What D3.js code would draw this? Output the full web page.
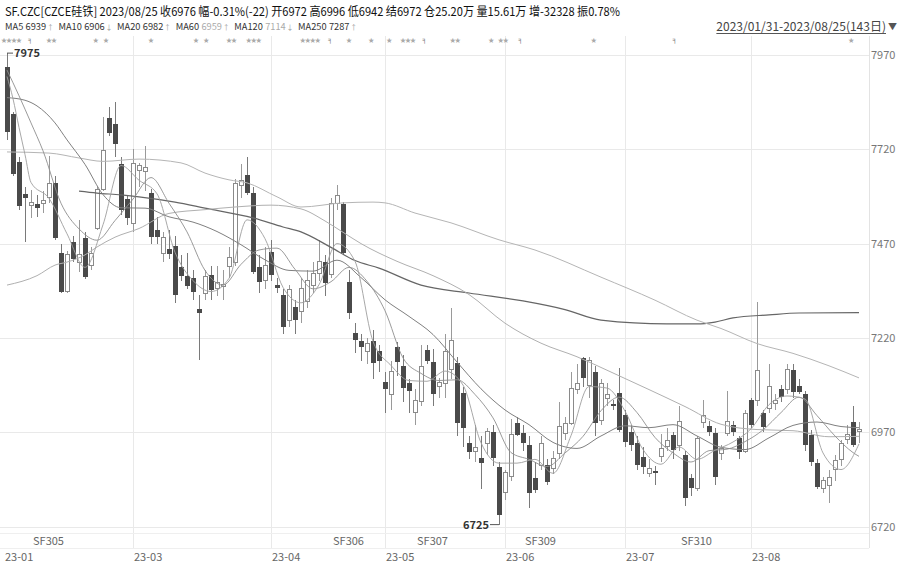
<!DOCTYPE html>
<html><head><meta charset="utf-8">
<script src="https://cdn.jsdelivr.net/npm/d3@7/dist/d3.min.js"></script>
<style>
html,body{margin:0;padding:0;background:#fff;}
svg{display:block;font-family:"Noto Sans CJK SC","Noto Sans",sans-serif;}
</style></head><body>
<svg id="c" width="900" height="567"></svg>
<script>
// ---------- data ----------
const opens  = [7937,7814,7687,7601,7572,7575,7575,7591,7631,7444,7343,7475,7419,7485,7413,7511,7614,7804,7787,7681,
 7587,7524,7665,7661,7604,7506,7445,7456,7464,7409,7384,7379,7297,7338,7387,7352,7355,7409,7420,7625,
 7652,7603,7409,7373,7449,7360,7334,7267,7302,7290,7316,7360,7392,7422,7387,7577,7575,7369,7232,7213,
 7184,7213,7184,7104,7069,7195,7146,7100,7022,7051,7188,7157,7091,7100,7135,7154,7073,6941,6920,6902,
 6941,6971,6879,6809,6852,6994,6969,6936,6848,6883,6883,6874,6914,6967,6994,7082,7166,7095,7130,7002,
 7060,7045,7075,7016,6971,6941,6905,6861,6868,6905,6931,6963,6936,6910,6848,6821,6995,6987,6967,6914,
 6967,6989,6954,6918,7055,7055,7020,7033,7047,7085,7082,7135,7093,7072,6963,6888,6821,6830,6870,6897,
 6950,6998,6972];
const highs  = [7975,7820,7700,7621,7612,7600,7610,7702,7650,7470,7450,7490,7533,7500,7460,7620,7806,7833,7846,7700,
 7600,7720,7685,7730,7615,7540,7500,7505,7490,7440,7445,7400,7334,7400,7410,7410,7400,7460,7640,7680,
 7700,7620,7440,7460,7480,7380,7350,7360,7320,7380,7400,7420,7480,7440,7590,7625,7580,7400,7260,7230,
 7220,7240,7200,7130,7160,7210,7175,7110,7085,7200,7200,7190,7115,7230,7300,7170,7090,6960,6990,6960,
 6980,6990,6890,6870,7005,7010,6990,6960,6890,6960,6900,6920,7050,7010,7130,7150,7170,7170,7145,7110,
 7100,7055,7140,7030,6990,6960,6930,6900,6880,6965,6980,6970,7040,6920,6860,6960,7055,7000,6980,6935,
 7080,7000,6960,7030,7060,7315,7030,7150,7070,7095,7150,7150,7110,7080,6975,6900,6850,6870,6910,6950,
 6990,7040,6996];
const lows   = [7745,7650,7560,7475,7538,7540,7550,7578,7480,7340,7340,7420,7396,7375,7400,7505,7610,7755,7700,7545,
 7520,7500,7620,7610,7470,7470,7420,7430,7313,7370,7350,7320,7161,7320,7320,7330,7320,7380,7410,7590,
 7600,7390,7340,7350,7370,7340,7230,7250,7230,7260,7300,7340,7370,7330,7380,7560,7440,7270,7180,7160,
 7150,7110,7130,7020,7030,7120,7050,7020,6990,7040,7150,7040,7060,7060,7110,6960,6930,6900,6890,6820,
 6910,6880,6725,6790,6840,6960,6920,6770,6810,6870,6830,6860,6900,6950,6990,7070,7090,7060,6960,6990,
 7040,7030,6970,6930,6920,6870,6860,6850,6830,6890,6920,6900,6920,6775,6800,6815,6980,6960,6830,6895,
 6960,6960,6900,6915,6980,7040,6970,7020,7030,7050,7070,7060,7070,6920,6880,6820,6810,6782,6840,6880,
 6940,6930,6942];
const closes = [7767,7655,7570,7590,7580,7565,7584,7630,7484,7343,7440,7429,7440,7382,7445,7614,7718,7762,7733,7559,
 7539,7683,7678,7671,7488,7488,7485,7442,7334,7384,7358,7343,7286,7382,7347,7366,7362,7434,7630,7638,
 7603,7396,7367,7413,7387,7352,7250,7347,7267,7350,7373,7392,7422,7365,7575,7598,7444,7285,7215,7197,
 7206,7154,7160,7084,7130,7157,7086,7080,7055,7143,7160,7071,7102,7184,7213,6994,6980,6918,6930,6889,
 6971,6901,6751,6862,6963,6963,6941,6808,6817,6941,6839,6901,6986,6994,7086,7100,7113,7161,6994,7100,
 7069,7040,6976,6945,6936,6883,6879,6874,6861,6928,6947,6923,6998,6795,6821,6954,7013,6971,6852,6928,
 6998,6971,6918,7020,6989,7133,6984,7091,7055,7064,7135,7077,7077,6936,6892,6826,6843,6849,6896,6941,
 6965,6936,6976];

// moving averages: [candle index, value]
const ma5 = [[0,7913],[1,7854],[2,7778],[3,7706],[4,7632],[7,7590],[10,7496],[13,7407],[16,7520],[19,7677],[22,7638],
 [25,7602],[28,7447],[31,7372],[34,7343],[37,7378],[40,7533],[43,7483],[46,7354],[49,7313],[52,7361],[55,7470],
 [58,7423],[61,7211],[64,7147],[67,7107],[70,7105],[73,7132],[76,7095],[79,6942],[82,6888],[85,6888],[88,6898],
 [91,6861],[94,6961],[97,7091],[100,7087],[103,7026],[106,6924],[109,6885],[112,6931],[115,6898],[118,6922],
 [121,6944],[124,6979],[127,7043],[130,7066],[133,7058],[136,6915],[139,6871],[142,6939]];
const ma10 = [[0,7930],[2,7862],[4,7790],[6,7716],[9,7577],[12,7509],[15,7479],[18,7531],[21,7588],[24,7645],[27,7577],
 [30,7501],[33,7399],[36,7360],[39,7415],[42,7453],[45,7458],[48,7402],[51,7350],[54,7369],[57,7407],[60,7370],
 [63,7292],[66,7167],[69,7126],[72,7107],[75,7109],[78,7070],[81,7008],[84,6916],[87,6898],[90,6879],[93,6915],
 [96,6959],[99,7027],[102,7063],[105,7022],[108,6956],[111,6915],[114,6891],[117,6921],[120,6925],[123,6945],
 [126,6976],[129,7022],[132,7063],[135,7014],[138,6960],[141,6916],[142,6906]];
const ma20 = [[0,7857],[3,7850],[5,7835],[8,7790],[10,7745],[13,7680],[16,7600],[19,7565],[23,7564],[27,7541],[31,7527],
 [35,7502],[39,7467],[43,7427],[47,7399],[51,7397],[55,7426],[59,7380],[63,7321],[67,7277],[71,7229],[75,7156],
 [79,7085],[83,7029],[87,6990],[91,6943],[95,6927],[99,6960],[103,6987],[107,6982],[111,6990],[115,6960],
 [119,6930],[123,6924],[127,6955],[131,6988],[135,6997],[139,6985],[142,6982]];
const ma60 = [[0,7360],[5,7385],[8,7413],[10,7421],[13,7440],[15,7461],[18,7487],[22,7510],[27,7550],[33,7560],
 [38,7567],[44,7572],[49,7562],[53,7530],[56,7500],[59,7470],[65,7423],[71,7385],[77,7335],[83,7259],[89,7206],
 [95,7170],[101,7127],[107,7083],[113,7038],[119,6991],[125,6977],[131,6974],[137,6958],[142,6959]];
const ma120 = [[0,7713],[7,7710],[12,7697],[16,7688],[22,7694],[29,7684],[33,7657],[37,7639],[40,7631],[45,7594],
 [49,7567],[56,7578],[61,7580],[63,7578],[68,7551],[74,7525],[82,7480],[88,7453],[99,7381],[108,7320],[115,7267],
 [119,7245],[125,7205],[131,7179],[137,7146],[142,7114]];
const ma250 = [[12,7609],[15,7604],[19,7599],[22,7594],[28,7580],[33,7564],[41,7538],[46,7514],[49,7501],[54,7460],
 [58,7425],[62,7405],[69,7360],[77,7339],[86,7318],[93,7295],[99,7267],[110,7257],[115,7257],[118,7262],[121,7273],
 [127,7281],[132,7286],[142,7287]];

const yTicks = [6720,6970,7220,7470,7720,7970];
const monthLabels = ["23-01","23-03","23-04","23-05","23-06","23-07","23-08"];
const monthIdx    = [0,21,44,63,83,103,124];
const contracts   = ["SF305","SF306","SF307","SF309","SF310"];
const contractIdx = [4,54,68,86,112];
// event markers: [candle index where the group starts, number of stars]
const starGroups = [[-1,4],[6.5,2],[14.3,1],[16,1],[23.5,1],[31,1],[32.7,1],[36.5,2],[39.8,3],[48.8,4],
 [56.5,1],[60.2,1],[63.2,1],[65.5,3],[73.8,2],[80.2,1],[81.8,2],[97.3,1],[140.2,1]];
const flagIdx = [3.9,53.9,69.6,85.6,111.3];

const maNames = ["MA5","MA10","MA20","MA60","MA120","MA250"];
const maLast  = [6939,6906,6982,6959,7114,7287];
const maArrow = ["↑","↓","↑","↑","↓","↑"];

// ---------- chart ----------
const svg = d3.select("#c");
const n = closes.length;
const x = d3.scaleBand().domain(d3.range(n)).range([4, 4 + 6*n]);
const cx = i => x(0) + x.bandwidth()/2 + i*x.step();
const y = d3.scaleLinear().domain([6720,7970]).range([526.5,55]);
const plotL = 0, plotR = 869, plotT = 36, plotB = 533;

svg.append("defs").append("clipPath").attr("id","clip")
  .append("rect").attr("x",plotL).attr("y",plotT).attr("width",plotR-plotL).attr("height",plotB-plotT);

// grid
const grid = svg.append("g").attr("shape-rendering","crispEdges");
grid.selectAll("line.h").data(yTicks).join("line")
  .attr("x1",plotL).attr("x2",plotR).attr("y1",d=>Math.round(y(d))+0.5).attr("y2",d=>Math.round(y(d))+0.5)
  .attr("stroke","#e9e9e9");
grid.selectAll("line.v").data(monthIdx.slice(1)).join("line")
  .attr("x1",d=>cx(d)+0.5).attr("x2",d=>cx(d)+0.5).attr("y1",plotT).attr("y2",548)
  .attr("stroke","#e9e9e9");
grid.append("line").attr("x1",plotR+0.5).attr("x2",plotR+0.5).attr("y1",plotT).attr("y2",548).attr("stroke","#e3e3e3");
grid.append("line").attr("x1",0).attr("x2",plotR).attr("y1",533.5).attr("y2",533.5).attr("stroke","#efefef");
grid.append("line").attr("x1",0).attr("x2",plotR).attr("y1",548.5).attr("y2",548.5).attr("stroke","#efefef");

// y axis labels (right)
const yAxis = d3.axisRight(y).tickValues(yTicks).tickSize(0).tickPadding(0).tickFormat(d3.format("d"));
const ya = svg.append("g").attr("transform",`translate(${plotR+2},0)`).call(yAxis);
ya.select(".domain").remove();
ya.selectAll("text").attr("fill","#777").attr("font-size",11)
  .attr("font-family",'"Noto Sans CJK SC","Noto Sans",sans-serif');

// candles
const cg = svg.append("g").attr("clip-path","url(#clip)").attr("shape-rendering","crispEdges");
const idx = d3.range(n);
cg.selectAll("line.w").data(idx).join("line")
  .attr("x1",i=>cx(i)+0.5).attr("x2",i=>cx(i)+0.5)
  .attr("y1",i=>y(highs[i])).attr("y2",i=>y(lows[i]))
  .attr("stroke",i=>closes[i]>=opens[i]?"#9a9a9a":"#7a7a7a");
cg.selectAll("rect.b").data(idx).join("rect")
  .attr("x",i=>closes[i]>=opens[i]?cx(i)-1.5:cx(i)-2)
  .attr("width",i=>closes[i]>=opens[i]?4:5)
  .attr("y",i=>y(Math.max(opens[i],closes[i])))
  .attr("height",i=>Math.max(1,Math.abs(y(opens[i])-y(closes[i]))))
  .attr("fill",i=>closes[i]>=opens[i]?"#fff":"#4a4a4a")
  .attr("stroke",i=>closes[i]>=opens[i]?"#8a8a8a":"none");

// MA lines
const line = d3.line().x(d=>cx(d[0])).y(d=>y(d[1])).curve(d3.curveMonotoneX);
const mg = svg.append("g").attr("clip-path","url(#clip)").attr("fill","none");
[[ma250,"#666",1.2],[ma120,"#b5b5b5",1],[ma60,"#b0b0b0",1],[ma20,"#808080",1],[ma10,"#8e8e8e",0.9],[ma5,"#9e9e9e",0.9]]
 .forEach(([d,c,w])=>mg.append("path").datum(d).attr("d",line).attr("stroke",c).attr("stroke-width",w));

// extreme labels
const hiI = d3.maxIndex(highs), loI = d3.minIndex(lows);
svg.append("line").attr("x1",cx(hiI)).attr("x2",cx(hiI)+6).attr("y1",y(highs[hiI])).attr("y2",y(highs[hiI])).attr("stroke","#555");
svg.append("text").attr("x",cx(hiI)+7).attr("y",y(highs[hiI])+4).text(highs[hiI])
  .attr("font-size",11).attr("font-weight","bold").attr("fill","#333");
svg.append("line").attr("x1",cx(loI)-9).attr("x2",cx(loI)).attr("y1",y(lows[loI])).attr("y2",y(lows[loI])).attr("stroke","#555");
svg.append("text").attr("x",cx(loI)-10).attr("y",y(lows[loI])+4).attr("text-anchor","end").text(lows[loI])
  .attr("font-size",11).attr("font-weight","bold").attr("fill","#333");

// contract labels and month labels
svg.selectAll("text.ct").data(contracts).join("text")
  .attr("x",(d,k)=>cx(contractIdx[k])+2).attr("y",545).text(d=>d)
  .attr("font-size",11).attr("fill","#666");
svg.selectAll("text.mt").data(monthLabels).join("text")
  .attr("x",(d,k)=>k===0?cx(monthIdx[k])-2:cx(monthIdx[k])+1).attr("y",561).text(d=>d)
  .attr("font-size",11).attr("fill","#666");

// event markers row
svg.selectAll("text.st").data(starGroups).join("text")
  .attr("x",d=>cx(d[0])).attr("y",42).text(d=>"★".repeat(d[1]))
  .attr("font-size",6).attr("letter-spacing",-1).attr("fill","#aaa");
svg.selectAll("text.fl").data(flagIdx).join("text")
  .attr("x",d=>cx(d)).attr("y",42).attr("text-anchor","middle").text("╕")
  .attr("font-size",7).attr("fill","#777").attr("font-family","DejaVu Sans");

// header line 1
svg.append("text").attr("x",5).attr("y",16).attr("font-size",12).attr("fill","#111")
  .attr("textLength",615).attr("lengthAdjust","spacingAndGlyphs")
  .text("SF.CZC[CZCE硅铁]  2023/08/25 收6976 幅-0.31%(-22) 开6972 高6996 低6942 结6972 仓25.20万 量15.61万 增-32328 振0.78%");

// header line 2: MA legend, font size chosen so the row fits the reference width
const pieces = [];
maNames.forEach((m,k)=>{
  pieces.push({t:m, c:"#333", fs:12, gap:3});
  pieces.push({t:String(maLast[k]), c:(k===3||k===4)?"#aaa":"#333", fs:12, gap:1});
  pieces.push({t:maArrow[k], c:"#999", fs:9, gap:6});
});
const lg = svg.append("g");
const els = pieces.map(p=>lg.append("text").attr("y",30).attr("font-size",p.fs).attr("fill",p.c).text(p.t));
const natural = d3.sum(els, e=>e.node().getComputedTextLength()) + d3.sum(pieces, p=>p.gap);
const f = Math.min(1, 357 / natural);
els.forEach((e,k)=>e.attr("font-size",pieces[k].fs*f));
let cur = 5;
els.forEach((e,k)=>{
  e.attr("x",cur);
  cur += e.node().getComputedTextLength() + pieces[k].gap*f;
});

// date range (right)
const rng = svg.append("text").attr("x",886).attr("y",31).attr("text-anchor","end")
  .attr("font-size",12).attr("fill","#444").text("2023/01/31-2023/08/25(143日)");
const bb = rng.node().getBBox();
svg.append("line").attr("x1",bb.x).attr("x2",bb.x+bb.width).attr("y1",33.5).attr("y2",33.5).attr("stroke","#555");
svg.append("text").attr("x",888).attr("y",30).attr("font-size",9).attr("fill","#555").text("▼");
</script>
</body></html>
